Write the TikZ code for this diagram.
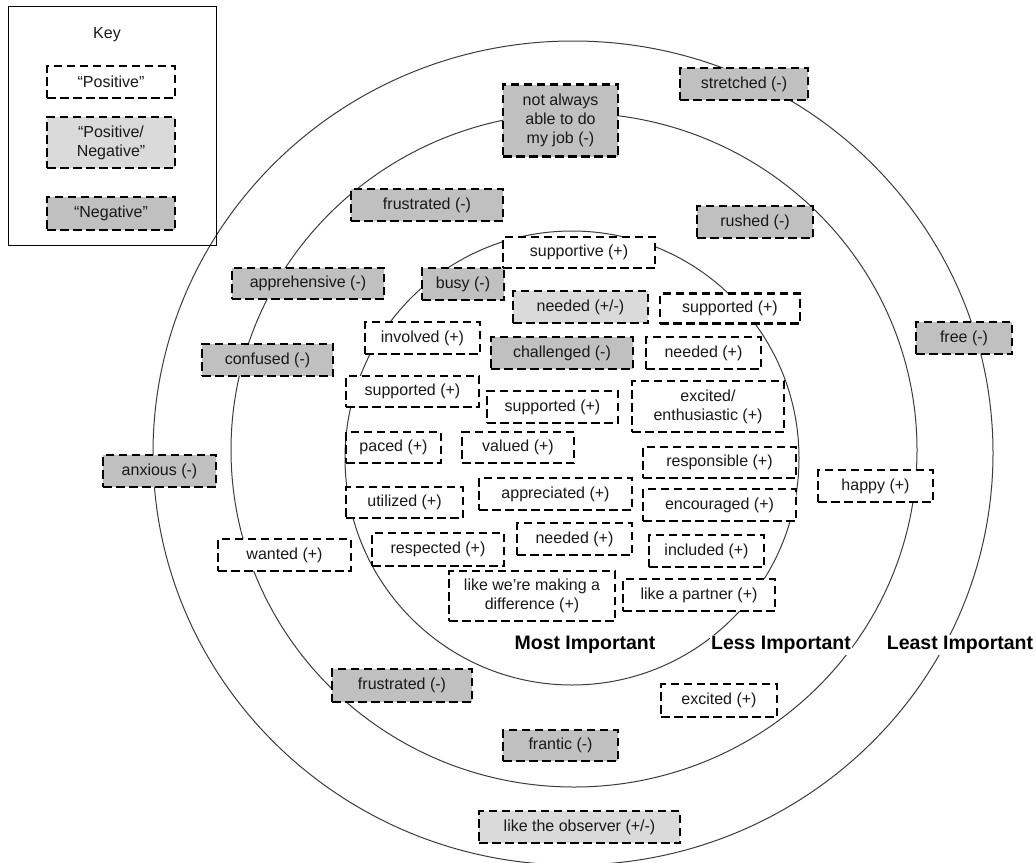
\documentclass[tikz,border=0pt]{standalone}
\usepackage{fontspec}
\setmainfont{Liberation Sans}
\definecolor{negfill}{RGB}{192,192,192}
\definecolor{pnfill}{RGB}{218,218,218}
\definecolor{ringcol}{RGB}{60,60,60}
\definecolor{txt}{RGB}{25,25,25}
\tikzset{
  ring/.style={draw=ringcol, line width=1pt},
  boxbase/.style={draw=black, line width=2.9pt, dash pattern=on 8.5pt off 4.5pt, inner sep=0pt, align=center, text=txt, font=\fontsize{16}{19}\selectfont},
  posbox/.style={boxbase, fill=white},
  pnbox/.style={boxbase, fill=pnfill},
  negbox/.style={boxbase, fill=negfill},
  sz/.style 2 args={minimum width=#1pt, minimum height=#2pt},
  lvl/.style={fill=white, inner sep=1pt, font=\fontsize{19.5}{22}\selectfont\bfseries, text=black}
}
\begin{document}
\begin{tikzpicture}[x=1pt,y=-1pt]
\useasboundingbox (0,0) rectangle (1035,862);
\fill[white] (0,0) rectangle (1035,862);
% rings
\draw[ring] (573,453) ellipse [x radius=420, y radius=412];
\draw[ring] (574,450) ellipse [x radius=343, y radius=337];
\draw[ring] (572,458) ellipse [x radius=227, y radius=227];
% key
\node[draw=black, line width=1pt, minimum width=208pt, minimum height=239pt, inner sep=0pt] (keyframe) at (112,125.5) {};
\node[text=txt, font=\fontsize{16}{19}\selectfont] (keytitle) at (107,35) {Key};
\node[posbox, sz={128}{32}] (keypos) at (111,82) {“Positive”};
\node[pnbox, sz={128}{51}] (keypn) at (111,142.5) {“Positive/\\Negative”};
\node[negbox, sz={128}{33}] (keyneg) at (111,213.5) {“Negative”};
% outer ring
\node[negbox, sz={128}{32}] (stretched) at (744,84) {stretched (-)};
\node[negbox, sz={96}{32}] (free) at (964,338) {free (-)};
\node[posbox, sz={115}{32}] (happy) at (875.5,486) {happy (+)};
\node[negbox, sz={113}{32}] (anxious) at (159.5,471) {anxious (-)};
\node[pnbox, sz={201}{32}] (observer) at (579.5,827) {like the observer (+/-)};
% middle ring
\node[negbox, sz={115}{72}] (notalways) at (560.5,120.5) {not always\\able to do\\my job (-)};
\node[negbox, sz={152}{32}] (frustratedtop) at (427,205) {frustrated (-)};
\node[negbox, sz={116}{32}] (rushed) at (755,222) {rushed (-)};
\node[negbox, sz={152}{31}] (apprehensive) at (308,283.5) {apprehensive (-)};
\node[negbox, sz={131}{32}] (confused) at (267.5,360) {confused (-)};
\node[posbox, sz={133}{32}] (wanted) at (284.5,555) {wanted (+)};
\node[negbox, sz={140}{33}] (frustratedbot) at (402,685.5) {frustrated (-)};
\node[negbox, sz={115}{31}] (frantic) at (560.5,745.5) {frantic (-)};
\node[posbox, sz={116}{33}] (excited) at (719,700.5) {excited (+)};
% inner ring
\node[negbox, sz={82}{32}] (busy) at (463,284) {busy (-)};
\node[posbox, sz={152}{31}] (supportive) at (579,252.5) {supportive (+)};
\node[pnbox, sz={135}{32}] (neededpn) at (580.5,307) {needed (+/-)};
\node[posbox, sz={115}{32}] (involved) at (422.5,338) {involved (+)};
\node[negbox, sz={142}{32}] (challenged) at (562,353) {challenged (-)};
\node[posbox, sz={133}{31}] (supportedL) at (412.5,391.5) {supported (+)};
\node[posbox, sz={131}{32}] (supportedM) at (552.5,407) {supported (+)};
\node[posbox, sz={140}{30}] (supportedR) at (730,308.5) {supported (+)};
\node[posbox, sz={115}{32}] (neededR) at (703.5,353) {needed (+)};
\node[posbox, sz={152}{51}] (enthusiastic) at (708,406.5) {excited/\\enthusiastic (+)};
\node[posbox, sz={153}{31}] (responsible) at (719.5,462.5) {responsible (+)};
\node[posbox, sz={153}{32}] (encouraged) at (719.5,505) {encouraged (+)};
\node[posbox, sz={95}{31}] (paced) at (393.5,447.5) {paced (+)};
\node[posbox, sz={112}{31}] (valued) at (518,447.5) {valued (+)};
\node[posbox, sz={117}{31}] (utilized) at (404.5,502.5) {utilized (+)};
\node[posbox, sz={153}{32}] (appreciated) at (555.5,494) {appreciated (+)};
\node[posbox, sz={132}{33}] (respected) at (438,549.5) {respected (+)};
\node[posbox, sz={115}{32}] (neededB) at (574.5,539) {needed (+)};
\node[posbox, sz={166}{50}] (difference) at (532,596) {like we’re making a\\difference (+)};
\node[posbox, sz={115}{32}] (included) at (706.5,551) {included (+)};
\node[posbox, sz={152}{32}] (partner) at (699,595) {like a partner (+)};
% level labels
\node[lvl] (most) at (585,645) {Most Important};
\node[lvl] (less) at (781,645) {Less Important};
\node[lvl] (least) at (960,645) {Least Important};
\end{tikzpicture}
\end{document}
